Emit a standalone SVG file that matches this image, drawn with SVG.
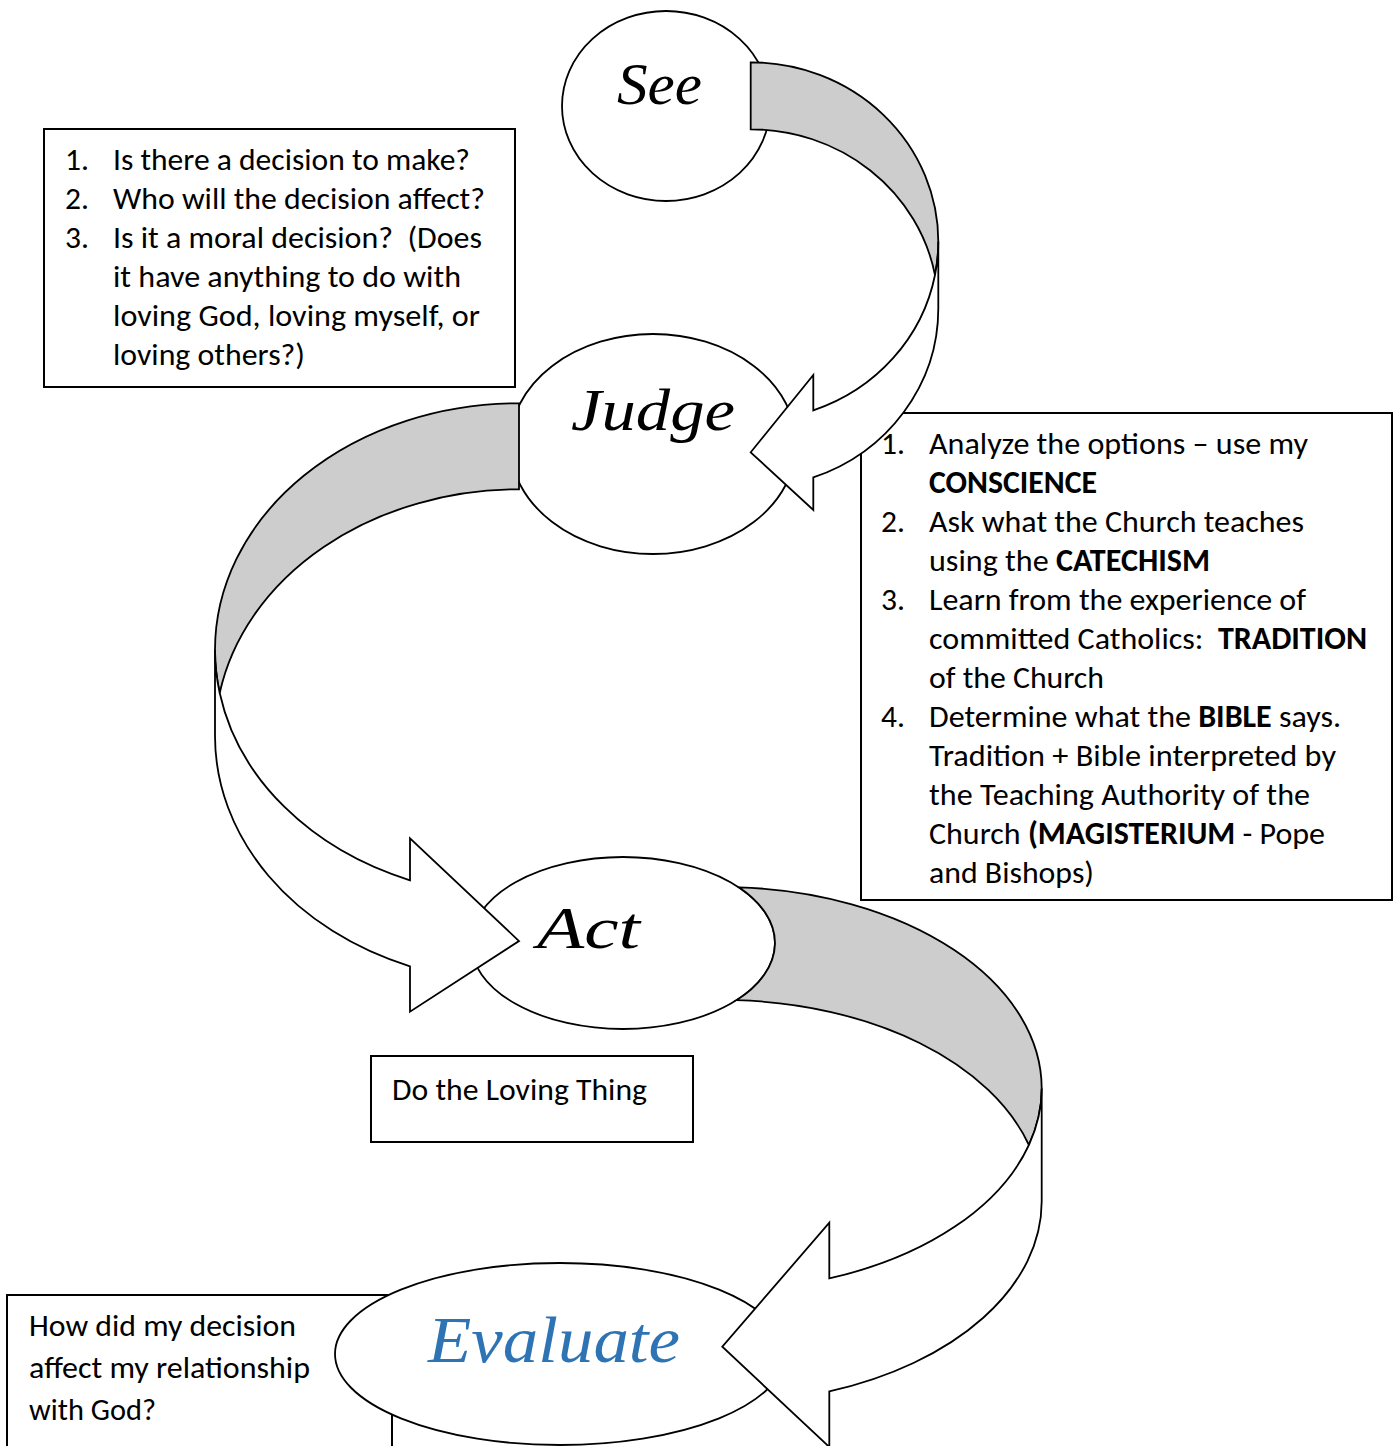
<svg xmlns="http://www.w3.org/2000/svg" width="1395" height="1446" viewBox="0 0 1395 1446">
<style>
.box{fill:#ffffff;stroke:#000;stroke-width:2}
.oval{fill:#ffffff;stroke:#000;stroke-width:1.8}
.back{fill:#cdcdcd;stroke:#000;stroke-width:1.8;stroke-linejoin:miter}
.front{fill:#ffffff;stroke:#000;stroke-width:1.8;stroke-linejoin:miter}
.body{font-family:Carlito,Calibri,Lato,"Liberation Sans",sans-serif;font-size:31.5px;fill:#000}
.b{font-weight:bold}
.title{font-family:"Liberation Serif","Times New Roman",serif;font-style:italic;font-size:60px;fill:#000}
.blue{fill:#2e74b5;font-size:66px}
</style>
<rect width="1395" height="1446" fill="#ffffff"/>

<g id="box-see">
<rect class="box" x="44" y="129" width="471" height="258"/>
<text class="body" x="65" y="170">1.</text>
<text class="body" x="113" y="170" textLength="357" lengthAdjust="spacingAndGlyphs">Is there a decision to make?</text>
<text class="body" x="65" y="209">2.</text>
<text class="body" x="113" y="209" textLength="372" lengthAdjust="spacingAndGlyphs">Who will the decision affect?</text>
<text class="body" x="65" y="248">3.</text>
<text class="body" x="113" y="248" textLength="369" lengthAdjust="spacingAndGlyphs" xml:space="preserve">Is it a moral decision?  (Does</text>
<text class="body" x="113" y="287" textLength="348" lengthAdjust="spacingAndGlyphs">it have anything to do with</text>
<text class="body" x="113" y="326" textLength="367" lengthAdjust="spacingAndGlyphs">loving God, loving myself, or</text>
<text class="body" x="113" y="365" textLength="192" lengthAdjust="spacingAndGlyphs">loving others?)</text>
</g>

<g id="box-judge">
<rect class="box" x="861" y="413" width="531" height="487"/>
<text class="body" x="881" y="454">1.</text>
<text class="body" x="929" y="454" textLength="379" lengthAdjust="spacingAndGlyphs">Analyze the options – use my</text>
<text class="body b" x="929" y="493" textLength="168" lengthAdjust="spacingAndGlyphs">CONSCIENCE</text>
<text class="body" x="881" y="532">2.</text>
<text class="body" x="929" y="532" textLength="375" lengthAdjust="spacingAndGlyphs">Ask what the Church teaches</text>
<text class="body" x="929" y="571" textLength="281" lengthAdjust="spacingAndGlyphs" xml:space="preserve">using the <tspan class="b">CATECHISM</tspan></text>
<text class="body" x="881" y="610">3.</text>
<text class="body" x="929" y="610" textLength="377" lengthAdjust="spacingAndGlyphs">Learn from the experience of</text>
<text class="body" x="929" y="649" textLength="438" lengthAdjust="spacingAndGlyphs" xml:space="preserve">committed Catholics:  <tspan class="b">TRADITION</tspan></text>
<text class="body" x="929" y="688" textLength="175" lengthAdjust="spacingAndGlyphs">of the Church</text>
<text class="body" x="881" y="727">4.</text>
<text class="body" x="929" y="727" textLength="412" lengthAdjust="spacingAndGlyphs" xml:space="preserve">Determine what the <tspan class="b">BIBLE</tspan> says.</text>
<text class="body" x="929" y="766" textLength="407" lengthAdjust="spacingAndGlyphs">Tradition + Bible interpreted by</text>
<text class="body" x="929" y="805" textLength="381" lengthAdjust="spacingAndGlyphs">the Teaching Authority of the</text>
<text class="body" x="929" y="844" textLength="396" lengthAdjust="spacingAndGlyphs" xml:space="preserve">Church <tspan class="b">(MAGISTERIUM</tspan> - Pope</text>
<text class="body" x="929" y="883" textLength="165" lengthAdjust="spacingAndGlyphs">and Bishops)</text>
</g>

<g id="box-act">
<rect class="box" x="371" y="1056" width="322" height="86"/>
<text class="body" x="392" y="1100" textLength="255" lengthAdjust="spacingAndGlyphs">Do the Loving Thing</text>
</g>

<g id="box-evaluate">
<rect class="box" x="7" y="1295" width="385" height="170"/>
<text class="body" x="29" y="1336" textLength="267" lengthAdjust="spacingAndGlyphs">How did my decision</text>
<text class="body" x="29" y="1378" textLength="281" lengthAdjust="spacingAndGlyphs">affect my relationship</text>
<text class="body" x="29" y="1420" textLength="127" lengthAdjust="spacingAndGlyphs">with God?</text>
</g>

<g id="node-see">
<ellipse class="oval" cx="666" cy="106" rx="104" ry="95"/>
<text class="title" x="617" y="104" textLength="85" lengthAdjust="spacingAndGlyphs">See</text>
</g>

<g id="node-judge">
<ellipse class="oval" cx="653" cy="444" rx="143" ry="110"/>
<text class="title" x="571" y="430" textLength="164" lengthAdjust="spacingAndGlyphs">Judge</text>
</g>

<g id="node-evaluate">
<ellipse class="oval" cx="560" cy="1354" rx="225" ry="91"/>
<text class="title blue" x="428" y="1362" textLength="252" lengthAdjust="spacingAndGlyphs">Evaluate</text>
</g>

<g id="node-act">
<ellipse class="oval" cx="623" cy="943" rx="152" ry="86"/>
<text class="title" x="537" y="948" textLength="103" lengthAdjust="spacingAndGlyphs">Act</text>
</g>

<g id="connectors">
<g id="arrow-see-judge">
<path class="back" d="M750.7,62.3 A187.6,179.2 0 0 1 938.3,241.5 A187.6,179.2 0 0 1 935,275 A187.6,179.2 0 0 0 750.7,129.3 Z"/>
<path class="front" d="M935,275 A187.6,179.2 0 0 1 813.3,410.4 L813.3,375 L750.7,452.3 L813.3,510 L813.3,477.4 A187.6,179.2 0 0 0 938.3,308.5 L938.3,241.5 A187.6,179.2 0 0 1 935,275 Z"/>
</g>
<g id="arrow-judge-act">
<path class="back" d="M519,403.3 A304,246.7 0 0 0 215,650 A304,246.7 0 0 0 219.7,693 A304,246.7 0 0 1 519,489.3 Z"/>
<path class="front" d="M219.7,693 A304,246.7 0 0 0 410,880.3 L410,838.3 L519,941 L410,1011.7 L410,966.3 A304,246.7 0 0 1 215,736 L215,650 A304,246.7 0 0 0 219.7,693 Z"/>
</g>
<g id="arrow-act-evaluate">
<path class="back" d="M738.8,887.3 A319.4,201.5 0 0 1 1041.7,1088.5 A319.4,201.5 0 0 1 1028.9,1145 A319.4,201.5 0 0 0 736.5,1000.2 A152,86 0 0 0 738.8,887.3 Z"/>
<path class="front" d="M1028.9,1145 A319.4,201.5 0 0 1 829.3,1278.4 L829.3,1222.7 L722.3,1346.7 L829.3,1447 L829.3,1391.4 A319.4,201.5 0 0 0 1041.7,1201.5 L1041.7,1088.5 A319.4,201.5 0 0 1 1028.9,1145 Z"/>
</g>
</g>
</svg>
